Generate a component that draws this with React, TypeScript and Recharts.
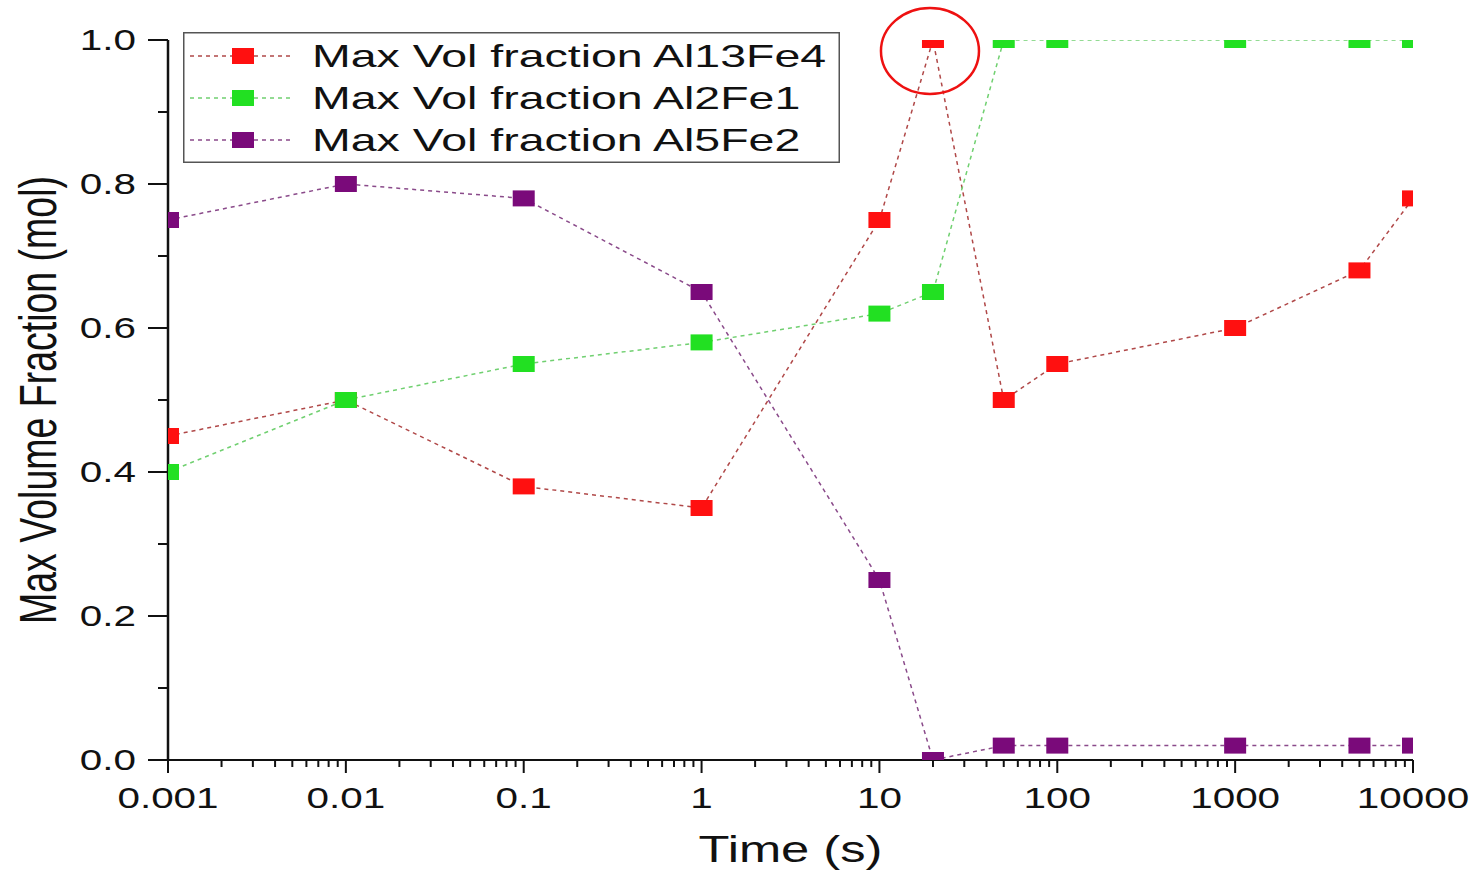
import React from 'react';
import { LineChart, Line, XAxis, YAxis, Legend, ReferenceDot } from 'recharts';

const times = [0.001, 0.01, 0.1, 1, 10, 20, 50, 100, 1000, 5000, 10000];
const al13fe4 = [0.45, 0.5, 0.38, 0.35, 0.75, 1.0, 0.5, 0.55, 0.6, 0.68, 0.78];
const al2fe1 = [0.4, 0.5, 0.55, 0.58, 0.62, 0.65, 1.0, 1.0, 1.0, 1.0, 1.0];
const al5fe2 = [0.75, 0.8, 0.78, 0.65, 0.25, 0.0, 0.02, 0.02, 0.02, 0.02, 0.02];

const seriesNames = ['Max Vol fraction Al13Fe4', 'Max Vol fraction Al2Fe1', 'Max Vol fraction Al5Fe2'];
const markerColors = ['#ff1010', '#22e022', '#7a0a7a'];
const lineColors = ['#b04848', '#70d070', '#8a4a8a'];

const decadeTicks = [0.001, 0.01, 0.1, 1, 10, 100, 1000, 10000];
const decadeLabels = ['0.001', '0.01', '0.1', '1', '10', '100', '1000', '10000'];
const minorMultipliers = [2, 3, 4, 5, 6, 7, 8, 9];
const yTicks = [0, 0.1, 0.2, 0.3, 0.4, 0.5, 0.6, 0.7, 0.8, 0.9, 1.0];
const yLabels = ['0.0', '', '0.2', '', '0.4', '', '0.6', '', '0.8', '', '1.0'];

const highlightTime = 20;
const highlightValue = 1.0;

const data = times.map((t, i) => ({
  t,
  a: al13fe4[i],
  b: al2fe1[i],
  c: al5fe2[i],
}));

const xTicks: number[] = [];
decadeTicks.forEach((d, i) => {
  xTicks.push(d);
  if (i < decadeTicks.length - 1) minorMultipliers.forEach((m) => xTicks.push(d * m));
});

const FONT = '"Liberation Sans", Arial, sans-serif';
const SX = 1.37;

const XTick = (props: any) => {
  const { x, y, payload } = props;
  const v = payload.value;
  const idx = decadeTicks.findIndex((d) => Math.abs(d - v) / d < 1e-6);
  const major = idx >= 0;
  return (
    <g>
      <line x1={x} x2={x} y1={y} y2={y + (major ? 13 : 7)} stroke="#111" strokeWidth={2} />
      {major && (
        <g transform={`translate(${x},${y + 48})`}>
          <text transform={`scale(${SX},1)`} textAnchor="middle" fontSize={29.5} fontFamily={FONT} fill="#111">
            {decadeLabels[idx]}
          </text>
        </g>
      )}
    </g>
  );
};

const YTick = (props: any) => {
  const { x, y, index } = props;
  const label = yLabels[index] ?? '';
  const major = label !== '';
  return (
    <g>
      <line x1={x - (major ? 20 : 10)} x2={x} y1={y} y2={y} stroke="#111" strokeWidth={2} />
      {major && (
        <g transform={`translate(${x - 32},${y})`}>
          <text transform={`scale(${SX},1)`} textAnchor="end" dominantBaseline="central" fontSize={29.5} fontFamily={FONT} fill="#111">
            {label}
          </text>
        </g>
      )}
    </g>
  );
};

const makeDot = (color: string) => (props: any) => {
  const { cx, cy } = props;
  if (cx == null || cy == null) return <g />;
  return <rect x={cx - 11} y={cy - 8} width={22} height={16} fill={color} />;
};

const LegendBox = () => (
  <svg width={657} height={131} style={{ display: 'block' }}>
    <rect x={0.75} y={0.75} width={655.5} height={129.5} fill="#fff" stroke="#555" strokeWidth={1.5} />
    {seriesNames.map((name, i) => {
      const cy = 24 + i * 42;
      return (
        <g key={name}>
          <line x1={7} x2={109} y1={cy} y2={cy} stroke={lineColors[i]} strokeWidth={1.5} strokeDasharray="4 4" />
          <rect x={49} y={cy - 8} width={22} height={16} fill={markerColors[i]} />
          <g transform={`translate(129,${cy + 11})`}>
            <text transform="scale(1.5,1)" fontSize={31} fontFamily={FONT} fill="#111">
              {name}
            </text>
          </g>
        </g>
      );
    })}
  </svg>
);

const Ellipse = (props: any) => {
  const { cx, cy } = props;
  return <ellipse cx={cx - 3} cy={cy + 11} rx={49} ry={43} fill="none" stroke="#ee1111" strokeWidth={2.5} />;
};

export default function App() {
  return (
    <div style={{ position: 'absolute', left: 0, top: 0, width: 1479, height: 872, background: '#fff' }}>
      <LineChart width={1479} height={872} data={data} margin={{ top: 40, right: 66, bottom: 0, left: 0 }}>
        <XAxis
          dataKey="t"
          type="number"
          scale="log"
          domain={[0.001, 10000]}
          ticks={xTicks}
          allowDataOverflow
          interval={0}
          height={112}
          tickSize={0}
          tickMargin={0}
          tickLine={false}
          axisLine={{ stroke: '#111', strokeWidth: 2 }}
          tick={<XTick />}
          label={({ viewBox }: any) => (
            <g transform={`translate(${viewBox.x + viewBox.width / 2},862)`}>
              <text transform={`scale(${SX},1)`} textAnchor="middle" fontSize={37} fontFamily={FONT} fill="#111">
                Time (s)
              </text>
            </g>
          )}
        />
        <YAxis
          type="number"
          domain={[0, 1]}
          ticks={yTicks}
          allowDataOverflow
          interval={0}
          width={168}
          tickSize={0}
          tickMargin={0}
          tickLine={false}
          axisLine={{ stroke: '#111', strokeWidth: 2.5 }}
          tick={<YTick />}
          label={({ viewBox }: any) => (
            <g transform={`translate(38,${viewBox.y + viewBox.height / 2}) scale(${SX},1) rotate(-90)`}>
              <text textAnchor="middle" dominantBaseline="central" fontSize={37.5} fontFamily={FONT} fill="#111">
                Max Volume Fraction (mol)
              </text>
            </g>
          )}
        />
        <Legend
          layout="horizontal"
          verticalAlign="middle"
          align="center"
          content={<LegendBox />}
          wrapperStyle={{ position: 'absolute', left: 183, top: 32, width: 657, height: 131 }}
        />
        <Line
          dataKey="a"
          name={seriesNames[0]}
          type="linear"
          stroke={lineColors[0]}
          strokeWidth={1.5}
          strokeDasharray="4 4"
          dot={makeDot(markerColors[0])}
          activeDot={false}
          isAnimationActive={false}
        />
        <Line
          dataKey="b"
          name={seriesNames[1]}
          type="linear"
          stroke={lineColors[1]}
          strokeWidth={1.5}
          strokeDasharray="4 4"
          dot={makeDot(markerColors[1])}
          activeDot={false}
          isAnimationActive={false}
        />
        <Line
          dataKey="c"
          name={seriesNames[2]}
          type="linear"
          stroke={lineColors[2]}
          strokeWidth={1.5}
          strokeDasharray="4 4"
          dot={makeDot(markerColors[2])}
          activeDot={false}
          isAnimationActive={false}
        />
        <ReferenceDot x={highlightTime} y={highlightValue} shape={<Ellipse />} ifOverflow="visible" />
      </LineChart>
    </div>
  );
}
